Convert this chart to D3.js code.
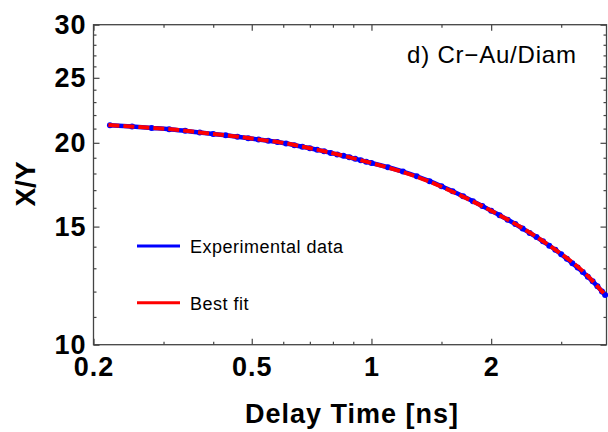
<!DOCTYPE html>
<html>
<head>
<meta charset="utf-8">
<script src="https://cdn.jsdelivr.net/npm/d3@7"></script>
<style>
  body { margin: 0; background: #fff; }
  svg { display: block; font-family: "Liberation Sans", Arial, Helvetica, sans-serif; }
</style>
</head>
<body>
<svg id="chart" width="608" height="432"></svg>
<script>
// Experimental data (delay time in ns, X/Y ratio)
const expTime = [0.22, 0.25, 0.28, 0.31, 0.34, 0.37, 0.40, 0.43, 0.46, 0.49, 0.52, 0.55, 0.58,
  0.61, 0.64, 0.67, 0.70, 0.73, 0.76, 0.79, 0.82, 0.85, 0.88, 0.91, 0.94, 0.97, 1.00,
  1.1, 1.2, 1.3, 1.4, 1.5, 1.6, 1.7, 1.8, 1.9, 2.0, 2.1, 2.2, 2.3, 2.4, 2.5, 2.6, 2.7, 2.8,
  2.9, 3.0, 3.1, 3.2, 3.3, 3.4, 3.5, 3.6, 3.7, 3.8, 3.87];
const expRatio = [21.25, 21.15, 21.05, 20.96, 20.84, 20.72, 20.62, 20.52, 20.42, 20.32, 20.23, 20.14, 20.05,
  19.95, 19.84, 19.73, 19.63, 19.53, 19.42, 19.32, 19.22, 19.13, 19.03, 18.93, 18.84, 18.74, 18.66,
  18.39, 18.12, 17.83, 17.53, 17.23, 16.94, 16.65, 16.37, 16.10, 15.84, 15.60, 15.36, 15.13, 14.90, 14.68, 14.47, 14.26, 14.05,
  13.85, 13.64, 13.43, 13.23, 13.03, 12.83, 12.63, 12.43, 12.22, 12.00, 11.86];

// Best fit
const fitTime = [0.218, 0.262, 0.318, 0.371, 0.45, 0.546, 0.589, 0.701, 0.834, 0.992, 1.181, 1.326,
  1.608, 1.951, 2.366, 2.869, 3.482, 3.87];
const fitRatio = [21.26, 21.11, 20.94, 20.72, 20.46, 20.15, 20.03, 19.63, 19.18, 18.68, 18.14, 17.72,
  16.88, 15.96, 14.99, 13.92, 12.70, 11.86];

// Axis ticks
const xMajor = [0.2, 0.5, 1, 2];
const xMinor = [0.3, 0.4, 0.6, 0.7, 0.8, 0.9, 1.5, 3];
const yMajor = [10, 15, 20, 25, 30];
const yMinor = [11, 12, 13, 14, 16, 17, 18, 19, 21, 22, 23, 24, 26, 27, 28, 29];

const legendItems = ["Experimental data", "Best fit"];
const legendColors = ["#0000ff", "#ff0000"];

const svg = d3.select("#chart");
const plotLeft = 93.5, plotRight = 606.5, plotTop = 24.7, plotBottom = 344.7;

const x = d3.scaleLog().domain([0.2, 3.9]).range([plotLeft, plotRight]);
const y = d3.scaleLog().domain([10, 30]).range([plotBottom, plotTop]);

const axisColor = "#444";

function styleAxis(g) {
  g.select(".domain").remove();
  g.selectAll(".tick line").attr("stroke", axisColor).attr("stroke-width", 1.2);
  g.selectAll(".tick text")
    .attr("fill", "#000")
    .style("font-size", "27px")
    .style("font-weight", "bold")
    .style("letter-spacing", "1px");
}

// bottom axis
svg.append("g").attr("transform", `translate(0,${plotBottom})`)
  .call(d3.axisBottom(x).tickValues(xMajor).tickSize(-6).tickPadding(12).tickFormat(d => d))
  .call(styleAxis);
svg.append("g").attr("transform", `translate(0,${plotBottom})`)
  .call(d3.axisBottom(x).tickValues(xMinor).tickSize(-3).tickFormat(""))
  .call(styleAxis);
// top axis
svg.append("g").attr("transform", `translate(0,${plotTop})`)
  .call(d3.axisTop(x).tickValues(xMajor).tickSize(-6).tickFormat(""))
  .call(styleAxis);
svg.append("g").attr("transform", `translate(0,${plotTop})`)
  .call(d3.axisTop(x).tickValues(xMinor).tickSize(-3).tickFormat(""))
  .call(styleAxis);
// left axis
svg.append("g").attr("transform", `translate(${plotLeft},0)`)
  .call(d3.axisLeft(y).tickValues(yMajor).tickSize(-6).tickPadding(7).tickFormat(d => d))
  .call(styleAxis);
svg.append("g").attr("transform", `translate(${plotLeft},0)`)
  .call(d3.axisLeft(y).tickValues(yMinor).tickSize(-3).tickFormat(""))
  .call(styleAxis);
// right axis
svg.append("g").attr("transform", `translate(${plotRight},0)`)
  .call(d3.axisRight(y).tickValues(yMajor).tickSize(-6).tickFormat(""))
  .call(styleAxis);
svg.append("g").attr("transform", `translate(${plotRight},0)`)
  .call(d3.axisRight(y).tickValues(yMinor).tickSize(-3).tickFormat(""))
  .call(styleAxis);

// frame
svg.append("rect")
  .attr("x", plotLeft).attr("y", plotTop)
  .attr("width", plotRight - plotLeft).attr("height", plotBottom - plotTop)
  .attr("fill", "none").attr("stroke", axisColor).attr("stroke-width", 1.3);

const expData = expTime.map((t, i) => [t, expRatio[i]]);
const fitData = fitTime.map((t, i) => [t, fitRatio[i]]);

const line = d3.line().x(d => x(d[0])).y(d => y(d[1])).curve(d3.curveMonotoneX);

// experimental data
svg.append("path")
  .datum(expData)
  .attr("d", line)
  .attr("fill", "none")
  .attr("stroke", "#0000ff")
  .attr("stroke-width", 4.5);

svg.append("g")
  .selectAll("circle")
  .data(expData)
  .join("circle")
  .attr("cx", d => x(d[0]))
  .attr("cy", d => y(d[1]))
  .attr("r", 3)
  .attr("fill", "#0000ff");

// best fit
svg.append("path")
  .datum(fitData)
  .attr("d", line)
  .attr("fill", "none")
  .attr("stroke", "#ff0000")
  .attr("stroke-width", 4)
  .attr("stroke-dasharray", "11,4");

// legend
const legend = svg.append("g")
  .selectAll("g")
  .data(legendItems)
  .join("g")
  .attr("transform", (d, i) => `translate(137,${246 + i * 56.7})`);

legend.append("line")
  .attr("x1", 0).attr("x2", 43)
  .attr("stroke", (d, i) => legendColors[i])
  .attr("stroke-width", 3);

legend.append("text")
  .attr("x", 53).attr("y", 7)
  .style("font-size", "18px")
  .style("letter-spacing", "0.5px")
  .text(d => d);

// panel label
svg.append("text")
  .attr("x", 407).attr("y", 63)
  .style("font-size", "24px")
  .style("letter-spacing", "0.8px")
  .text("d) Cr\u2212Au/Diam");

// axis titles
svg.append("text")
  .attr("x", (plotLeft + plotRight) / 2 + 2).attr("y", 423)
  .attr("text-anchor", "middle")
  .style("font-size", "27px")
  .style("font-weight", "bold")
  .style("letter-spacing", "1px")
  .text("Delay Time [ns]");

svg.append("text")
  .attr("transform", "translate(35,184) rotate(-90)")
  .attr("text-anchor", "middle")
  .style("font-size", "28px")
  .style("font-weight", "bold")
  .text("X/Y");
</script>
</body>
</html>
